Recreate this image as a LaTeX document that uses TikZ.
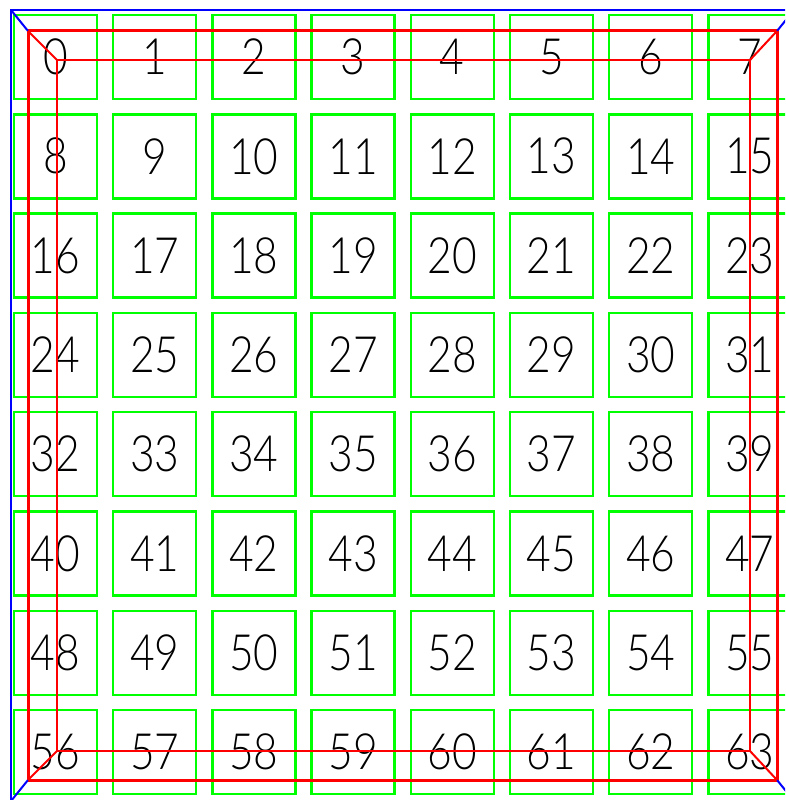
\documentclass[tikz,border=0pt]{standalone}
\usepackage{fontspec}
\setmainfont{Lato}[UprightFont=* Light,FakeStretch=0.85]
\usetikzlibrary{calc}
\begin{document}
\begin{tikzpicture}[x=1pt,y=-1pt,
  cell/.style={draw=green,line width=2.5pt,minimum width=83pt,minimum height=84pt,
              inner sep=0pt,text=black,font=\fontsize{50}{50}\selectfont},
  frame/.style={draw=blue,line width=2.5pt},
  outer/.style={draw=red,line width=3pt},
  inner/.style={draw=red,line width=2pt}]
\useasboundingbox (0,0) rectangle (785,800);
\clip (0,0) rectangle (785,800);
% grid of cells
\foreach \r in {0,...,7}
  \foreach \c in {0,...,7} {
    \pgfmathtruncatemacro{\n}{8*\r+\c}
    \node[cell] (cell\n) at ({55.5+99.2*\c},{57+99.3*\r}) {\n};
  }
% frame corners
\coordinate (B1) at (11,10);  \coordinate (B2) at (794,10);
\coordinate (B3) at (794,801); \coordinate (B4) at (11,801);
\coordinate (O1) at (28,31);  \coordinate (O2) at (777,31);
\coordinate (O3) at (777,780); \coordinate (O4) at (28,780);
\coordinate (I1) at (57,60);  \coordinate (I2) at (750,60);
\coordinate (I3) at (750,751); \coordinate (I4) at (57,751);
\draw[frame] (B1) -- (B2) -- (B3) -- (B4) -- cycle;
\draw[outer] (O1) -- (O2) -- (O3) -- (O4) -- cycle;
\draw[inner] (I1) -- (I2) -- (I3) -- (I4) -- cycle;
\foreach \k in {1,...,4} {
  \draw[blue,line width=2pt] (B\k) -- (O\k);
  \draw[red,line width=2pt] (O\k) -- (I\k);
}
\end{tikzpicture}
\end{document}
